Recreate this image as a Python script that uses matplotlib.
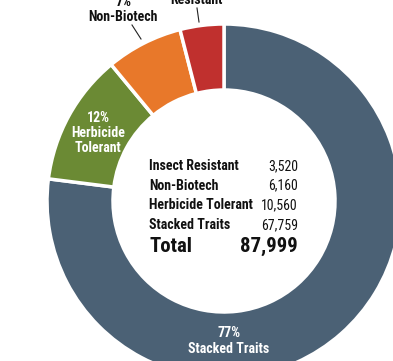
import matplotlib.pyplot as plt
from matplotlib import font_manager

# acreage by trait group
categories = ['Stacked Traits', 'Herbicide Tolerant', 'Non-Biotech', 'Insect Resistant']
acres = [67759, 10560, 6160, 3520]
colors = ['#4b6175', '#6b8a34', '#e8782a', '#c0302e']
table_rows = ['Insect Resistant', 'Non-Biotech', 'Herbicide Tolerant', 'Stacked Traits']
table_vals = [3520, 6160, 10560, 67759]

# pick a narrow face if one is around
installed = {f.name for f in font_manager.fontManager.ttflist}
narrow = [n for n in ['Liberation Sans Narrow', 'Roboto Condensed', 'Open Sans Condensed',
                      'DejaVu Sans Condensed'] if n in installed]
FONT = narrow[:1] + ['DejaVu Sans']
STRETCH = 'condensed'

W, H = 393, 361

fig = plt.figure(figsize=(W / 100, H / 100), dpi=100)
ax = fig.add_axes([0, 0, 1, 1])

total = sum(acres)
cx, cy = 224, H - 201
R, r = 177, 111
ax.pie(acres, colors=colors, startangle=90, counterclock=False,
       center=(cx, cy), radius=R,
       wedgeprops=dict(width=R - r, edgecolor='white', linewidth=2.5))
ax.set_xlim(0, W)
ax.set_ylim(0, H)
ax.set_aspect('auto')
ax.axis('off')

pct = [round(100 * a / total) for a in acres]

def txt(x, y, s, **kw):
    kw.setdefault('fontsize', 10)
    kw.setdefault('color', '#111111')
    ax.text(x, y, s, family=FONT, fontstretch=STRETCH, **kw)

# labels on / around the ring
txt(98, H - 133, f'{pct[1]}%\nHerbicide\nTolerant', color='white', fontweight='bold',
    ha='center', va='center', linespacing=1.1)
txt(229, H - 341, f'{pct[0]}%\nStacked Traits', color='white', fontweight='bold',
    ha='center', va='center', linespacing=1.2)
txt(123, H - 24, f'{pct[2]}%\nNon-Biotech', fontweight='bold',
    ha='center', va='bottom', linespacing=1.1)
txt(196, H - 7, f'{pct[3]}%\nInsect\nResistant', fontweight='bold',
    ha='center', va='bottom', linespacing=1.1)
ax.plot([132, 141], [H - 25, H - 39], color='#222222', lw=0.8)
ax.plot([197, 199], [H - 8, H - 22], color='#222222', lw=0.8)

# summary table in the hole
for i, (name, v) in enumerate(zip(table_rows, table_vals)):
    y = H - (166 + i * 19.7)
    txt(149, y, name, fontweight='bold', va='center', ha='left')
    txt(298, y, f'{v:,}', va='center', ha='right')
txt(149, H - 246, 'Total', fontsize=15, fontweight='bold', va='center', ha='left')
txt(298, H - 246, f'{total:,}', fontsize=15, fontweight='bold', va='center', ha='right')

fig.savefig('out.png', dpi=100)
